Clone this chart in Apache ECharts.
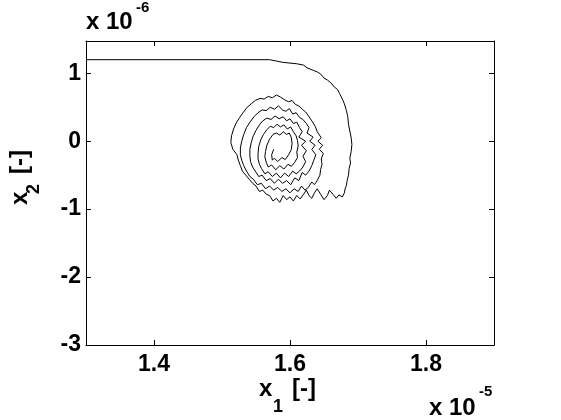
<!DOCTYPE html>
<html>
<head>
<meta charset="utf-8">
<script src="https://cdn.jsdelivr.net/npm/echarts@6/dist/echarts.min.js"></script>
<style>
html,body{margin:0;padding:0;background:#fff;}
#c{width:561px;height:420px;}
</style>
</head>
<body>
<div id="c"></div>
<script>
// x values in units of 1e-5, y values in units of 1e-6
var xTicks = [1.4, 1.6, 1.8];
var yTicks = [-3, -2, -1, 0, 1];
var xRange = [1.3, 1.9];
var yRange = [-3, 1.475];

var trajX = [
1.30,1.40,1.50,1.57,
1.58,1.59,1.60,1.61,1.62,1.625,1.635,1.64,1.645,1.65,1.655,1.66,1.665,1.67,1.673,1.677,1.68,1.683,1.685,1.686,1.688,1.690,1.691,1.690,1.688,1.689,1.687,1.686,1.684,1.683,1.681,1.680,
1.677,1.672,1.668,1.663,1.658,1.655,1.650,1.645,1.640,1.636,1.632,1.628,1.624,1.62,1.615,1.61,1.605,1.60,1.595,1.59,1.585,1.58,1.575,1.57,1.565,1.56,1.555,1.55,1.545,1.54,1.535,1.53,1.527,1.524,1.522,
1.516,1.513,1.514,1.517,1.521,1.526,1.531,1.537,1.543,1.549,1.556,1.562,1.568,1.574,1.580,1.586,1.592,1.598,1.603,1.608,1.613,1.618,1.623,1.628,1.632,1.637,1.640,1.646,1.641,1.648,1.643,1.649,1.646,1.647,1.645,1.644,1.640,1.636,1.632,1.627,1.622,1.617,1.612,1.606,1.600,1.594,1.588,1.582,1.576,1.570,1.564,1.558,1.552,1.546,1.541,1.536,1.532,1.529,
1.527,1.527,1.529,1.532,1.536,1.541,1.547,1.553,1.559,1.565,1.571,1.577,1.583,1.589,1.594,1.599,1.604,1.609,1.614,1.619,1.624,1.628,1.625,1.634,1.629,1.637,1.632,1.638,1.635,1.632,1.628,1.623,1.618,1.613,1.607,1.601,1.595,1.589,1.583,1.577,1.571,1.565,1.559,1.554,1.549,1.545,1.542,
1.541,1.541,1.543,1.546,1.550,1.555,1.560,1.566,1.572,1.578,1.584,1.590,1.595,1.600,1.605,1.610,1.614,1.618,1.613,1.623,1.617,1.624,1.619,1.623,1.619,1.614,1.609,1.604,1.598,1.592,1.586,1.580,1.574,1.568,1.563,1.558,1.555,1.553,
1.553,1.554,1.557,1.561,1.566,1.571,1.576,1.581,1.586,1.591,1.596,1.601,1.605,1.609,1.611,1.612,1.610,1.611,1.607,1.602,1.597,1.591,1.585,1.579,1.573,1.568,1.565,1.563,
1.564,1.566,1.570,1.575,1.580,1.585,1.590,1.595,1.599,1.602,1.603,1.602,1.598,1.593,1.588,1.582,1.577,1.574,1.573,1.576
];
var trajY = [
1.20,1.20,1.20,1.20,
1.18,1.16,1.15,1.14,1.12,1.08,1.04,1.02,0.99,0.93,0.90,0.86,0.80,0.76,0.70,0.62,0.55,0.45,0.36,0.25,0.15,0.05,-0.05,-0.15,-0.25,-0.32,-0.40,-0.50,-0.58,-0.65,-0.70,-0.76,
-0.82,-0.79,-0.84,-0.78,-0.72,-0.80,-0.86,-0.78,-0.70,-0.76,-0.84,-0.80,-0.72,-0.78,-0.85,-0.80,-0.88,-0.82,-0.86,-0.80,-0.90,-0.84,-0.88,-0.80,-0.78,-0.72,-0.74,-0.66,-0.62,-0.56,-0.50,-0.44,-0.36,-0.28,-0.20,
-0.12,-0.02,0.08,0.18,0.27,0.35,0.42,0.50,0.55,0.60,0.63,0.62,0.66,0.64,0.68,0.65,0.61,0.58,0.60,0.54,0.52,0.47,0.43,0.36,0.30,0.22,0.14,0.05,0.00,-0.06,-0.12,-0.18,-0.26,-0.34,-0.42,-0.50,-0.58,-0.64,-0.60,-0.68,-0.72,-0.66,-0.74,-0.70,-0.76,-0.70,-0.74,-0.68,-0.72,-0.66,-0.70,-0.62,-0.64,-0.56,-0.52,-0.44,-0.36,-0.28,-0.20,
-0.10,0.00,0.10,0.20,0.28,0.36,0.42,0.46,0.45,0.50,0.47,0.52,0.46,0.44,0.48,0.40,0.42,0.35,0.32,0.26,0.20,0.12,0.06,0.00,-0.06,-0.12,-0.20,-0.28,-0.36,-0.44,-0.50,-0.46,-0.58,-0.54,-0.64,-0.58,-0.62,-0.56,-0.62,-0.55,-0.58,-0.50,-0.52,-0.44,-0.38,-0.30,-0.22,
-0.12,-0.02,0.08,0.16,0.24,0.30,0.34,0.32,0.37,0.33,0.36,0.30,0.33,0.26,0.28,0.20,0.14,0.06,0.00,-0.06,-0.14,-0.22,-0.30,-0.38,-0.44,-0.48,-0.44,-0.52,-0.47,-0.54,-0.47,-0.52,-0.45,-0.48,-0.40,-0.34,-0.26,-0.18,
-0.08,0.02,0.10,0.17,0.22,0.20,0.25,0.21,0.24,0.18,0.21,0.14,0.08,0.01,-0.07,-0.16,-0.24,-0.31,-0.37,-0.34,-0.41,-0.36,-0.42,-0.35,-0.38,-0.31,-0.23,-0.15,
-0.06,0.03,0.10,0.12,0.09,0.14,0.10,0.12,0.05,-0.03,-0.12,-0.20,-0.27,-0.24,-0.30,-0.25,-0.28,-0.20,-0.12,-0.04
];

var pts = trajX.map(function (x, i) { return [x, trajY[i]]; });

var FONT = '"Liberation Sans", Arial, Helvetica, sans-serif';
function f(sz) { return 'bold ' + sz + 'px ' + FONT; }

var chart = echarts.init(document.getElementById('c'), null, { renderer: 'canvas' });
chart.setOption({
  backgroundColor: '#fff',
  animation: false,
  grid: { left: 86, right: 67, top: 41, bottom: 75, containLabel: false },
  xAxis: [{
    type: 'value', min: xRange[0], max: xRange[1], position: 'bottom',
    axisLine: { show: true, onZero: false, lineStyle: { color: '#000', width: 1 } },
    axisTick: { show: true, inside: true, length: 5, customValues: xTicks, lineStyle: { color: '#000' } },
    axisLabel: { show: true, customValues: xTicks, margin: 8, formatter: function (v) { return v.toFixed(1); }, color: '#000', fontFamily: FONT, fontWeight: 'bold', fontSize: 23 },
    splitLine: { show: false }
  }, {
    type: 'value', min: xRange[0], max: xRange[1], position: 'top',
    axisLine: { show: true, onZero: false, lineStyle: { color: '#000', width: 1 } },
    axisTick: { show: true, inside: true, length: 5, customValues: xTicks, lineStyle: { color: '#000' } },
    axisLabel: { show: false },
    splitLine: { show: false }
  }],
  yAxis: [{
    type: 'value', min: yRange[0], max: yRange[1], position: 'left',
    axisLine: { show: true, onZero: false, lineStyle: { color: '#000', width: 1 } },
    axisTick: { show: true, inside: true, length: 5, customValues: yTicks, lineStyle: { color: '#000' } },
    axisLabel: { show: true, customValues: yTicks, margin: 5, formatter: function (v) { return String(v); }, color: '#000', fontFamily: FONT, fontWeight: 'bold', fontSize: 23 },
    splitLine: { show: false }
  }, {
    type: 'value', min: yRange[0], max: yRange[1], position: 'right',
    axisLine: { show: true, onZero: false, lineStyle: { color: '#000', width: 1 } },
    axisTick: { show: true, inside: true, length: 5, customValues: yTicks, lineStyle: { color: '#000' } },
    axisLabel: { show: false },
    splitLine: { show: false }
  }],
  series: [{
    type: 'line', xAxisIndex: 0, yAxisIndex: 0,
    data: pts, showSymbol: false, symbol: 'none', smooth: false,
    lineStyle: { color: '#000', width: 1 }, clip: true, silent: true
  }],
  graphic: [
    // x axis title
    { type: 'text', x: 259, y: 377, style: { text: 'x', fill: '#000', font: f(24) } },
    { type: 'text', x: 273, y: 398, style: { text: '1', fill: '#000', font: f(18) } },
    { type: 'text', x: 292, y: 377, style: { text: '[-]', fill: '#000', font: f(24) } },
    // y axis title (rotated)
    { type: 'text', x: 8, y: 205, rotation: Math.PI / 2, style: { text: 'x', fill: '#000', font: f(24) } },
    { type: 'text', x: 25, y: 194, rotation: Math.PI / 2, style: { text: '2', fill: '#000', font: f(18) } },
    { type: 'text', x: 8, y: 174, rotation: Math.PI / 2, style: { text: '[-]', fill: '#000', font: f(24) } },
    // top multiplier
    { type: 'text', x: 86, y: 10, style: { text: 'x 10', fill: '#000', font: f(24) } },
    { type: 'text', x: 136, y: 0, style: { text: '-6', fill: '#000', font: f(15) } },
    // bottom multiplier
    { type: 'text', x: 429, y: 396, style: { text: 'x 10', fill: '#000', font: f(24) } },
    { type: 'text', x: 479, y: 384, style: { text: '-5', fill: '#000', font: f(15) } }
  ]
});
</script>
</body>
</html>
